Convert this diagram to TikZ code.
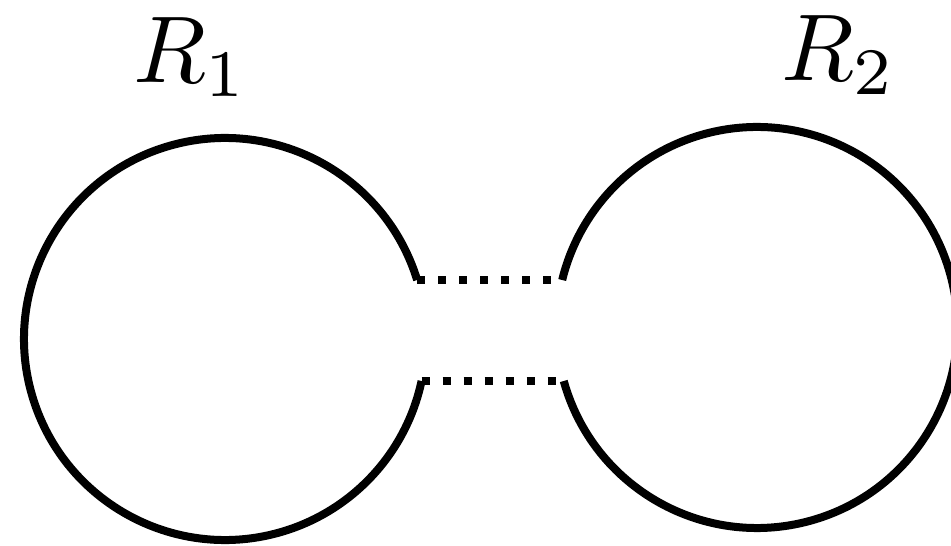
\documentclass[tikz,border=0pt]{standalone}
\begin{document}
\begin{tikzpicture}
\useasboundingbox (0,0) rectangle (19.02,10.90);
\clip (0,0) rectangle (19.02,10.90);
\tikzset{
  ring/.style={line width=0.16cm},
  dotline/.style={line width=0.16cm, dash pattern=on 0.16cm off 0.26cm},
  lab/.style={scale=5.4, inner sep=0pt, anchor=base}
}
\coordinate (a1) at (8.343,5.30);
\coordinate (a2) at (8.431,3.28);
\coordinate (b1) at (11.244,5.30);
\coordinate (b2) at (11.275,3.28);
\draw[ring] (a1) arc[start angle=17.07, end angle=347.94, radius=4.02];
\draw[ring] (b2) arc[start angle=195.48, end angle=526.30, radius=4.01];
\draw[dotline] (a1) -- (b1);
\draw[dotline] (a2) -- (b2);
\node[lab] (r1) at (3.81,9.26) {$R_1$};
\node[lab] (r2) at (16.77,9.30) {$R_2$};
\end{tikzpicture}
\end{document}
